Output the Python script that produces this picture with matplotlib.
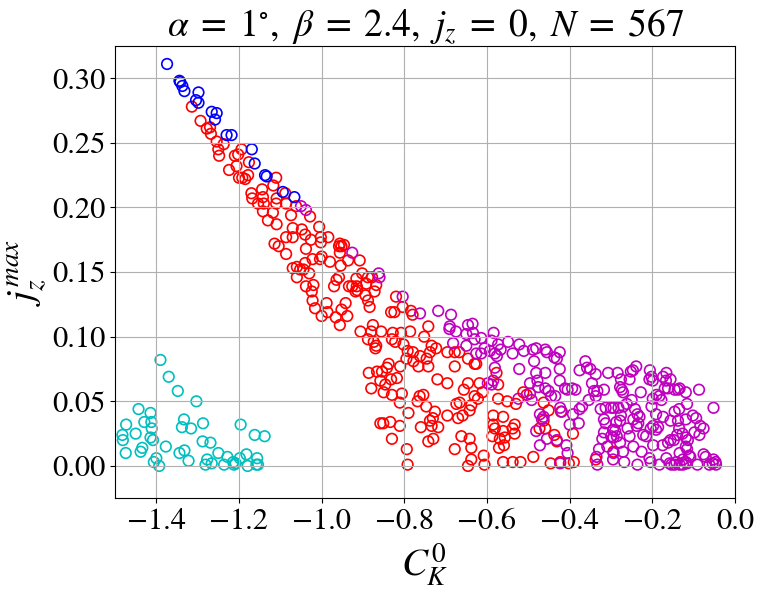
import matplotlib
matplotlib.use("Agg")
import matplotlib.pyplot as plt
import numpy as np

# ---- data (C_K^0, j_z^max) per group ----
blue_x = [-1.374, -1.344, -1.342, -1.337, -1.332, -1.298, -1.304, -1.298, -1.266, -1.254,
          -1.258, -1.230, -1.218, -1.169, -1.162, -1.137, -1.133, -1.094, -1.066]
blue_y = [0.311, 0.298, 0.297, 0.294, 0.290, 0.289, 0.283, 0.281, 0.274, 0.273,
          0.268, 0.256, 0.256, 0.245, 0.234, 0.225, 0.224, 0.212, 0.208]

cyan_x = [-1.390, -1.370, -1.348, -1.303, -1.443, -1.473, -1.414, -1.429, -1.412, -1.411,
          -1.482, -1.481, -1.450, -1.414, -1.408, -1.434, -1.438, -1.474, -1.400, -1.406,
          -1.393, -1.377, -1.333, -1.338, -1.316, -1.287, -1.288, -1.269, -1.344, -1.332,
          -1.322, -1.250, -1.277, -1.281, -1.266, -1.236, -1.228, -1.214, -1.208, -1.212,
          -1.198, -1.182, -1.196, -1.179, -1.162, -1.138, -1.156, -1.158, -1.154]
cyan_y = [0.082, 0.069, 0.058, 0.050, 0.044, 0.032, 0.041, 0.034, 0.034, 0.029,
          0.024, 0.020, 0.025, 0.022, 0.020, 0.014, 0.011, 0.010, 0.006, 0.003,
          0.000, 0.015, 0.036, 0.030, 0.029, 0.033, 0.019, 0.018, 0.010, 0.012,
          0.004, 0.010, 0.005, 0.001, 0.002, 0.001, 0.007, 0.003, 0.002, 0.001,
          0.006, 0.009, 0.032, 0.000, 0.024, 0.023, 0.006, 0.001, 0.001]

red_x = [
    # upper branch
    -1.314, -1.293, -1.278, -1.270, -1.268, -1.254, -1.237, -1.250, -1.248, -1.194,
    -1.210, -1.202, -1.206, -1.224, -1.176, -1.200, -1.192, -1.178, -1.185, -1.110,
    -1.117, -1.144, -1.170, -1.168, -1.142, -1.154, -1.140, -1.109, -1.088, -1.110,
    -1.086, -1.062, -1.142, -1.118, -1.074, -1.130, -1.109, -1.070, -1.048, -1.028,
    -1.006,
    # middle
    -1.040, -1.086, -1.070, -1.026, -1.002, -0.984, -1.002, -0.956, -0.952, -0.946,
    -0.958, -1.114, -1.104, -1.086, -1.038, -1.022, -1.004, -1.000, -0.980, -1.040,
    -0.956, -0.936, -0.908, -0.954, -1.070, -1.060, -1.052, -1.044, -1.030, -1.060,
    -1.038, -1.020, -1.024, -0.964, -0.958, -0.970, -0.916, -0.902, -0.888, -0.878,
    -0.934, -0.926, -0.915, -0.918, -0.914, -0.892, -0.868, -0.872, -0.894, -0.888,
    -0.884, -1.022, -0.988, -1.016, -0.986, -1.000, -0.942, -0.952, -0.938, -0.966,
    -0.956, -0.820, -0.832, -0.824, -0.804, -0.784, -0.780, -0.876, -0.906, -0.880,
    -0.856, -0.828, -0.808, -0.786, -0.752, -0.742, -0.888, -0.874, -0.868, -0.822,
    -0.802,
    # lower middle
    -0.870, -0.830, -0.792, -0.779, -0.762, -0.746, -0.734, -0.723, -0.738, -0.742,
    -0.766, -0.778, -0.795, -0.810, -0.838, -0.842, -0.854, -0.866, -0.886, -0.832,
    -0.818, -0.858, -0.846, -0.880, -0.850, -0.830, -0.806, -0.811, -0.763, -0.768,
    -0.754, -0.747, -0.790, -0.726, -0.731, -0.738, -0.718, -0.734, -0.760, -0.834,
    -0.851, -0.858, -0.811, -0.830, -0.742, -0.730, -0.794, -0.792, -0.720, -0.696,
    -0.696, -0.678, -0.667, -0.678, -0.646, -0.630, -0.626, -0.646, -0.618, -0.656,
    -0.630, -0.611, -0.622, -0.666, -0.674, -0.638, -0.642, -0.659, -0.670, -0.696,
    -0.662, -0.642, -0.678, -0.638, -0.638, -0.646, -0.608, -0.606,
    # right part
    -0.577, -0.573, -0.512, -0.504, -0.463, -0.451, -0.573, -0.551, -0.530, -0.585,
    -0.561, -0.585, -0.581, -0.587, -0.561, -0.538, -0.533, -0.533, -0.569, -0.557,
    -0.571, -0.559, -0.459, -0.473, -0.463, -0.437, -0.431, -0.392, -0.421, -0.488,
    -0.561, -0.538, -0.519, -0.446, -0.423, -0.402, -0.390, -0.337, -0.294]
red_y = [
    0.278, 0.267, 0.261, 0.262, 0.257, 0.251, 0.249, 0.245, 0.240, 0.245,
    0.240, 0.241, 0.232, 0.229, 0.235, 0.223, 0.223, 0.225, 0.222, 0.223,
    0.217, 0.214, 0.211, 0.207, 0.208, 0.203, 0.203, 0.207, 0.211, 0.203,
    0.203, 0.201, 0.197, 0.196, 0.194, 0.190, 0.187, 0.184, 0.183, 0.193,
    0.185,
    0.179, 0.177, 0.177, 0.175, 0.177, 0.177, 0.173, 0.172, 0.170, 0.171,
    0.170, 0.172, 0.170, 0.164, 0.168, 0.160, 0.160, 0.162, 0.158, 0.157,
    0.165, 0.159, 0.159, 0.155, 0.153, 0.154, 0.152, 0.152, 0.149, 0.146,
    0.139, 0.140, 0.135, 0.144, 0.146, 0.139, 0.145, 0.149, 0.146, 0.146,
    0.139, 0.139, 0.139, 0.135, 0.136, 0.141, 0.140, 0.135, 0.132, 0.128,
    0.123, 0.128, 0.126, 0.122, 0.119, 0.116, 0.126, 0.121, 0.116, 0.115,
    0.109, 0.131, 0.119, 0.119, 0.123, 0.120, 0.117, 0.109, 0.104, 0.104,
    0.104, 0.103, 0.103, 0.104, 0.100, 0.108, 0.098, 0.096, 0.093, 0.096,
    0.094,
    0.091, 0.098, 0.089, 0.088, 0.085, 0.083, 0.093, 0.091, 0.088, 0.077,
    0.077, 0.081, 0.083, 0.077, 0.079, 0.076, 0.073, 0.073, 0.072, 0.067,
    0.068, 0.066, 0.063, 0.060, 0.057, 0.055, 0.056, 0.049, 0.054, 0.050,
    0.055, 0.046, 0.041, 0.042, 0.037, 0.035, 0.030, 0.031, 0.030, 0.034,
    0.033, 0.033, 0.031, 0.021, 0.019, 0.021, 0.013, 0.001, 0.067, 0.064,
    0.088, 0.088, 0.088, 0.077, 0.083, 0.079, 0.079, 0.064, 0.064, 0.059,
    0.054, 0.057, 0.052, 0.049, 0.048, 0.047, 0.043, 0.039, 0.037, 0.039,
    0.023, 0.021, 0.013, 0.014, 0.005, 0.000, 0.008, 0.001,
    0.072, 0.063, 0.057, 0.055, 0.049, 0.043, 0.052, 0.050, 0.048, 0.039,
    0.038, 0.032, 0.029, 0.023, 0.027, 0.029, 0.032, 0.025, 0.021, 0.022,
    0.014, 0.016, 0.029, 0.029, 0.035, 0.024, 0.019, 0.025, 0.042, 0.007,
    0.003, 0.003, 0.003, 0.002, 0.003, 0.002, 0.003, 0.005, 0.011]

mag_x = [
    -1.050, -1.038, -0.926, -0.862, -0.860, -0.804, -0.762, -0.718, -0.687,
    -0.690, -0.691, -0.675, -0.646, -0.635, -0.634, -0.650, -0.630, -0.614, -0.682,
    -0.650, -0.626, -0.614, -0.606, -0.598,
    -0.584, -0.589, -0.573, -0.567, -0.581, -0.593, -0.576, -0.549, -0.522, -0.538,
    -0.511, -0.489, -0.481, -0.459, -0.455, -0.424, -0.431, -0.437, -0.486, -0.581,
    -0.522, -0.481, -0.459, -0.424, -0.424, -0.585, -0.589, -0.496, -0.478, -0.476,
    -0.459, -0.451, -0.445, -0.435, -0.492, -0.496, -0.524, -0.411, -0.405, -0.394,
    -0.386, -0.376, -0.362, -0.358, -0.350, -0.337, -0.307, -0.346, -0.341, -0.333,
    -0.317, -0.337, -0.354, -0.370, -0.376, -0.392, -0.400, -0.378, -0.423, -0.419,
    -0.463, -0.467, -0.472, -0.481, -0.455, -0.431, -0.472, -0.408, -0.405, -0.325,
    -0.313, -0.317, -0.313, -0.317, -0.321, -0.329, -0.335, -0.309, -0.423, -0.333,
    -0.284, -0.276, -0.278, -0.274, -0.271, -0.252, -0.247, -0.239, -0.255, -0.228,
    -0.206, -0.207, -0.202, -0.199, -0.174, -0.166, -0.167, -0.156, -0.170, -0.162,
    -0.146, -0.138, -0.134, -0.119, -0.087, -0.190, -0.183, -0.178, -0.199, -0.202,
    -0.250, -0.262, -0.270, -0.282, -0.294, -0.300, -0.242, -0.236, -0.231, -0.246,
    -0.276, -0.287, -0.278, -0.260, -0.255, -0.238, -0.234, -0.222, -0.215, -0.204,
    -0.198, -0.191, -0.186, -0.191, -0.174, -0.146, -0.135, -0.156, -0.138, -0.119,
    -0.116, -0.102, -0.094, -0.084, -0.076, -0.086, -0.098, -0.052, -0.135, -0.127,
    -0.119, -0.114, -0.140, -0.148, -0.156, -0.162, -0.175, -0.198, -0.119, -0.116,
    -0.134, -0.111, -0.108, -0.126, -0.119, -0.142, -0.166, -0.158, -0.154, -0.146,
    -0.134, -0.126, -0.116, -0.091, -0.076, -0.071, -0.052, -0.047, -0.046, -0.054,
    -0.062, -0.183, -0.207, -0.204, -0.236, -0.246, -0.226, -0.271, -0.268, -0.294,
    -0.295, -0.286, -0.300, -0.294, -0.290, -0.295, -0.278]
mag_y = [
    0.201, 0.198, 0.165, 0.149, 0.146, 0.131, 0.118, 0.120, 0.117,
    0.108, 0.106, 0.104, 0.109, 0.110, 0.103, 0.102, 0.098, 0.099, 0.095,
    0.093, 0.087, 0.087, 0.091, 0.064,
    0.103, 0.097, 0.094, 0.090, 0.087, 0.089, 0.085, 0.096, 0.094, 0.087,
    0.089, 0.090, 0.091, 0.090, 0.088, 0.088, 0.083, 0.084, 0.081, 0.076,
    0.075, 0.072, 0.072, 0.075, 0.066, 0.066, 0.063, 0.064, 0.066, 0.061,
    0.060, 0.058, 0.054, 0.054, 0.051, 0.056, 0.052, 0.060, 0.059, 0.060,
    0.059, 0.074, 0.081, 0.076, 0.075, 0.071, 0.072, 0.064, 0.058, 0.058,
    0.059, 0.054, 0.051, 0.046, 0.044, 0.040, 0.032, 0.033, 0.045, 0.042,
    0.038, 0.036, 0.040, 0.027, 0.021, 0.020, 0.016, 0.016, 0.010, 0.044,
    0.045, 0.036, 0.033, 0.026, 0.021, 0.013, 0.007, 0.015, 0.002, 0.001,
    0.072, 0.067, 0.061, 0.059, 0.057, 0.073, 0.074, 0.077, 0.067, 0.057,
    0.074, 0.067, 0.069, 0.066, 0.069, 0.072, 0.066, 0.067, 0.060, 0.060,
    0.059, 0.059, 0.060, 0.057, 0.059, 0.055, 0.054, 0.051, 0.052, 0.046,
    0.051, 0.048, 0.046, 0.045, 0.045, 0.045, 0.044, 0.040, 0.038, 0.036,
    0.039, 0.034, 0.035, 0.029, 0.023, 0.031, 0.033, 0.024, 0.023, 0.029,
    0.031, 0.028, 0.030, 0.040, 0.038, 0.042, 0.044, 0.035, 0.035, 0.036,
    0.048, 0.039, 0.037, 0.031, 0.029, 0.024, 0.026, 0.045, 0.029, 0.025,
    0.022, 0.020, 0.024, 0.020, 0.020, 0.018, 0.016, 0.016, 0.015, 0.013,
    0.010, 0.008, 0.007, 0.005, 0.003, 0.003, 0.006, 0.002, 0.001, 0.001,
    0.001, 0.001, 0.002, 0.001, 0.009, 0.007, 0.005, 0.003, 0.001, 0.002,
    0.001, 0.001, 0.006, 0.003, 0.001, 0.015, 0.011, 0.011, 0.003, 0.010,
    0.005, 0.023, 0.023, 0.022, 0.027, 0.028, 0.018]

plt.rcParams.update({
    "font.family": "STIXGeneral",
    "mathtext.fontset": "stix",
    "font.size": 20,
})

fig = plt.figure(figsize=(7.63, 5.96), dpi=100)
ax = fig.add_axes([0.1507, 0.164, 0.8126, 0.759])

kw = dict(s=58, facecolors="none", linewidths=1.2)
ax.scatter(red_x, red_y, edgecolors="r", **kw)
ax.scatter(mag_x, mag_y, edgecolors="m", **kw)
ax.scatter(blue_x, blue_y, edgecolors="b", **kw)
ax.scatter(cyan_x, cyan_y, edgecolors="c", **kw)

ax.set_xlim(-1.5, 0.0)
ax.set_ylim(-0.025, 0.325)
ax.set_xticks(np.arange(-1.4, 0.01, 0.2))
ax.set_yticks(np.arange(0.0, 0.301, 0.05))
ax.grid(True)
ax.tick_params(labelsize=22)

ax.set_title(r"$\alpha\;=\;1^{\circ},\ \beta\;=\;2.4,\ j_z\;=\;0,\ N\;=\;567$",
             fontsize=27, pad=5)
ax.set_xlabel(r"$C_K^0$", fontsize=28, labelpad=4)
ax.set_ylabel(r"$j_z^{max}$", fontsize=28, labelpad=2)

fig.savefig("out.png", dpi=100)
